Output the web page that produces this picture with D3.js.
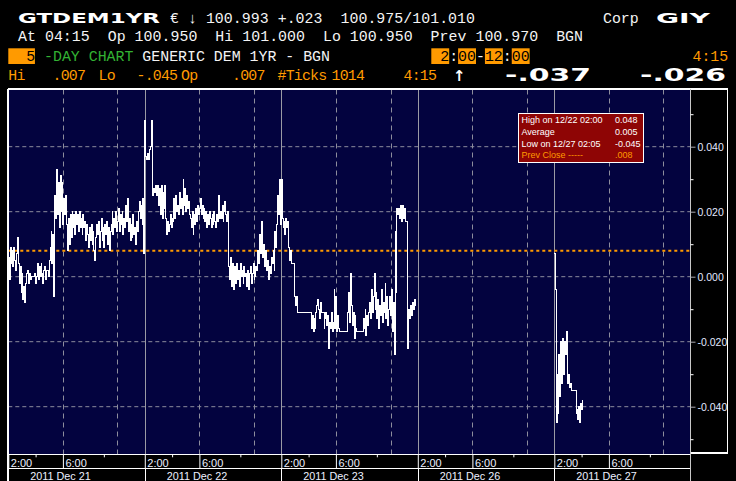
<!DOCTYPE html>
<html><head><meta charset="utf-8">
<script src="https://cdn.jsdelivr.net/npm/d3@7"></script>
<style>html,body{margin:0;padding:0;background:#000;overflow:hidden}svg{display:block}</style>
</head><body>
<svg id="c" width="736" height="481"></svg>
<script>
// ---------------- data ----------------
const dayLabels = ["2011 Dec 21", "2011 Dec 22", "2011 Dec 23", "2011 Dec 26", "2011 Dec 27"];
const sampleMinutes = 4;          // spacing of the readings below, from 2:00 each session
const sessionMinutes = 600;       // 2:00 - 12:00
// yield change readings, one every 4 minutes from 2:00
const dec21 = [.006,-.001,.009,.004,.008,.003,.009,.005,.002,.007, .012,.004,
  -.002,.003,-.005,.001,-.007,-.003,-.008,-.002,.001,
  .002,-.002,.001,-.001,0,0,0,0,.001,-.002,0,
  .004,-.001,.003,0,.004,.001,-.002,.002,.003,-.001,.002,
  .002,0,.005,.009, .014,.004,.013,-.006, .025,.018,.033,
  .019,.029,.015,.031,.020,.029,.016,.024,.019,.025,.016, .008,.018,.010,
  .019,.012,.020,.015,.019,.013,.020,.016,.019,.014,.020,.015,.018,.013,.019,.015,.017,.011,.016,
  .013,.009,.015,.011,.016,.010,.014,.008,.005,.012,.016,
  .013,.017,.009,.014,.018,.011,.015,.009,.016,.013,.017,.010,.015,.008,.014,
  .016,.020,.013,.018,.015,.020,.014,.017,.021,.014,.019,.016,.020,.013,.018,.015,.022,.017,
  .024,.014,.018,.011,.016,.012,.019,.013,.015,.010,.017,.014,.020,.023,.018,
  .022,.016,.024,.007];
const dec22 = [.048, .037,.036,.038,.036,.039, .040,.048,.042,.025,
  .027,.026,.028,.025,.028,.022,.027,.019,.028,.018,.026,.021,.028,.018,
  .013,.017,.014,.016,.019,.015,.018,.017,
  .024,.018,.025,.020,.022,.019,.026,.021,.024,.019,.030,.022,.027,.020,.025,.021,.023,.019,
  .018,.015,.020,.013,.019,.016,.021,.017,.022,.019,.021,
  .024,.019,.022,.018,.021,.017,.020,.015,.019,.016,.020,.018,.015,.019,.016,.020,.017,.015,.019,.017,.025,.018,
  .020,.018,.022,.017,.020,.023,.019,.017,.020, .003,
  -.001,.006,-.003,.004,0,-.004,.003,-.002,.004,-.001,.002,-.003,.004,0,.002,
  -.002,.003,0,.001,-.003,.002,-.004,.001,.003,-.002,.001,.004,-.001,0,.003,
  .002,.008,.004,.013,.007,.017,.006,.010,
  .006,.003,.008,.002,.005,-.001,.003,.001,.006,.004,.008,.002,.014,.009,.016,
  .025,.019,.030,.016];
const dec23 = [.030,.018, .015,.017,.013,.018,.015,.017, .009,.005,.008, .004,.004,.004,.004,
  -.006,-.009,-.006,-.011,
  -.011,-.011,-.011,-.011,-.011,-.011,-.011,-.011,-.011,-.011,-.011,-.011,-.011,-.011,
  -.016,-.012,-.017,-.013,-.016,-.011, -.009,-.007,-.010,-.013,-.008,-.011,
  -.011,-.011,-.016,-.013,-.011,
  -.015,-.012,-.022,-.014,-.016,-.011,-.017,-.014,-.004,-.016,-.006,-.017,-.012,-.016,
  -.017,-.017,-.017,-.017,-.017,-.017,-.017,-.017,-.017,
  -.011,-.005,-.014,.001,-.009, -.015,-.011,-.019,-.012,-.016,
  -.017,-.017,-.017,-.017,-.017,-.017,-.017,
  -.013,-.016,-.010,-.018,-.012,-.015,-.011,
  -.008,-.013,-.004,-.011,-.006,.001,-.010,
  -.005,-.013,-.007,-.016,-.009,-.012,-.004,-.014,-.008,-.011,-.002,-.013,-.006,-.015,-.010,
  -.006,-.012,-.004,-.017,-.008, -.024,
  .014,-.005,.021,.019,.021,.018, .022,.017,.022,.018,.021,.017, .017,.017, -.022,
  -.010,-.013,-.009,-.012,-.008,-.010,-.007,-.009,-.008];
const dec26 = [];
const dec27 = [.007,-.004,-.045,-.030,-.042,-.024,-.037,-.020,-.033,-.019,-.030,-.020,-.024,-.017,
  -.031,-.033,-.030,-.034,-.033,-.035,-.035,-.035,-.035,-.035,
  -.042,-.041,-.044,-.040,-.045,-.039,-.041,-.038,-.038];
const prevClose = 0.008;
const yTicks = [-0.04, -0.02, 0, 0.02, 0.04];
const yMinorTicks = [-0.05, -0.03, -0.01, 0.01, 0.03, 0.05];
const timeLabels = ["2:00", "6:00"];
const timeLabelMinutes = [0, 240];
const timeMinorMinutes = [120, 420];
const gridMinutes = [240, 480];
const legendLabels = ["High on 12/22 02:00", "Average", "Low on 12/27 02:05", "Prev Close -----"];
const legendValues = ["0.048", "0.005", "-0.045", ".008"];

// ---------------- drawing ----------------
const svg = d3.select("#c");
const ORANGE = "#ff9a00", WHITE = "#f4f4f4", MONO = "'Liberation Mono', 'DejaVu Sans Mono', monospace";
const SANS = "'Liberation Sans', Arial, sans-serif";
const BOLD = "'DejaVu Sans', sans-serif";

const L = 8.3, R = 690.8, T = 89.5, B = 454;
const x = d3.scaleLinear().domain([0, dayLabels.length * sessionMinutes]).range([L, R]);
const y = d3.scaleLinear().domain([-0.04, 0.04]).range([406.7, 146.7]);

svg.append("rect").attr("width", 736).attr("height", 481).attr("fill", "#000");
svg.append("rect").attr("x", L).attr("y", T).attr("width", R - L).attr("height", B - T).attr("fill", "#03033f");

// gridlines
const grid = svg.append("g");
grid.selectAll("line.h").data(yTicks).join("line")
  .attr("x1", L).attr("x2", R).attr("y1", d => y(d)).attr("y2", d => y(d))
  .attr("stroke", "#8d8d9d").attr("stroke-width", 1).attr("stroke-dasharray", "4,3");
const vGrid = [];
dayLabels.forEach((_, d) => gridMinutes.forEach(m => vGrid.push(d * sessionMinutes + m)));
grid.selectAll("line.v").data(vGrid).join("line")
  .attr("x1", d => Math.round(x(d)) + 0.5).attr("x2", d => Math.round(x(d)) + 0.5)
  .attr("y1", T).attr("y2", B)
  .attr("stroke", "#8d8d9d").attr("stroke-width", 1).attr("stroke-dasharray", "5,4");
grid.selectAll("line.d").data(d3.range(1, dayLabels.length)).join("line")
  .attr("x1", d => Math.round(x(d * sessionMinutes)) + 0.5).attr("x2", d => Math.round(x(d * sessionMinutes)) + 0.5)
  .attr("y1", T).attr("y2", B)
  .attr("stroke", "#9a9aa4").attr("stroke-width", 1);

// prev close line
svg.append("line").attr("x1", L).attr("x2", R).attr("y1", y(prevClose)).attr("y2", y(prevClose))
  .attr("stroke", ORANGE).attr("stroke-width", 2).attr("stroke-dasharray", "3,3");

// price line
svg.append("clipPath").attr("id", "clip").append("rect")
  .attr("x", L).attr("y", T).attr("width", R - L).attr("height", B - T);
const toPts = (arr, d) => arr.map((v, i) => [d * sessionMinutes + i * sampleMinutes, v]);
const seg1 = [].concat(toPts(dec21, 0), toPts(dec22, 1), toPts(dec23, 2));
const seg2 = [].concat(toPts(dec26, 3), toPts(dec27, 4));
const line = d3.line().x(p => x(p[0])).y(p => y(p[1])).curve(d3.curveStepAfter);
svg.append("g").attr("clip-path", "url(#clip)").selectAll("path").data([seg1, seg2]).join("path")
  .attr("d", line).attr("fill", "none").attr("stroke", "#fff").attr("stroke-width", 1)
  .attr("shape-rendering", "crispEdges");

// frame lines
const frame = svg.append("g").attr("stroke", "#fff").attr("stroke-width", 1.3).attr("shape-rendering", "crispEdges");
frame.append("line").attr("x1", L - 0.5).attr("x2", 728).attr("y1", 89).attr("y2", 89);
frame.append("line").attr("x1", 8).attr("x2", 8).attr("y1", 89).attr("y2", 481);
frame.append("line").attr("x1", 727.5).attr("x2", 727.5).attr("y1", 89).attr("y2", 453);
frame.append("line").attr("x1", R).attr("x2", 728).attr("y1", 453).attr("y2", 453);
frame.append("line").attr("x1", 8).attr("x2", R).attr("y1", 454.3).attr("y2", 454.3);
frame.append("line").attr("x1", 8).attr("x2", R).attr("y1", 468.5).attr("y2", 468.5);
svg.append("line").attr("x1", 690.5).attr("x2", 690.5).attr("y1", 89).attr("y2", 481)
  .attr("stroke", "#c8c8c8").attr("stroke-width", 1);

// right axis
const yAxis = svg.append("g").attr("transform", "translate(690.5,0)")
  .call(d3.axisRight(y).tickValues(yTicks).tickSize(5).tickPadding(2).tickFormat(d => d.toFixed(3)));
yAxis.select(".domain").remove();
yAxis.selectAll(".tick line").attr("stroke", "#a8a8b0");
yAxis.selectAll("text").attr("fill", "#e2e8ff").attr("font-family", SANS).attr("font-size", 10.5);
const yMinor = svg.append("g").attr("transform", "translate(690.5,0)")
  .call(d3.axisRight(y).tickValues(yMinorTicks).tickSize(3).tickFormat(""));
yMinor.select(".domain").remove();
yMinor.selectAll(".tick line").attr("stroke", "#fff");

// bottom axis
const xMajor = [], xMinor = [];
dayLabels.forEach((_, d) => {
  timeLabelMinutes.forEach(m => xMajor.push(d * sessionMinutes + m));
  timeMinorMinutes.forEach(m => xMinor.push(d * sessionMinutes + m));
});
const xAxis = svg.append("g").attr("transform", "translate(0,454.3)")
  .call(d3.axisBottom(x).tickValues(xMajor).tickSize(14.2)
    .tickFormat(v => timeLabels[timeLabelMinutes.indexOf(v % sessionMinutes)]));
xAxis.select(".domain").remove();
xAxis.selectAll(".tick line").attr("stroke", "#fff");
xAxis.selectAll(".tick text").attr("text-anchor", "start").attr("x", 2).attr("y", 12.3).attr("dy", 0)
  .attr("fill", "#eef0ff").attr("font-family", SANS).attr("font-size", 11);
const xMin = svg.append("g").attr("transform", "translate(0,454.3)")
  .call(d3.axisBottom(x).tickValues(xMinor).tickSize(3).tickFormat(""));
xMin.select(".domain").remove();
xMin.selectAll(".tick line").attr("stroke", "#fff");
svg.append("g").selectAll("line").data(d3.range(1, dayLabels.length)).join("line")
  .attr("x1", d => Math.round(x(d * sessionMinutes)) + 0.5).attr("x2", d => Math.round(x(d * sessionMinutes)) + 0.5)
  .attr("y1", 468).attr("y2", 481).attr("stroke", "#fff");
svg.append("g").selectAll("text").data(dayLabels).join("text")
  .attr("x", (d, i) => x(i * sessionMinutes) + 22).attr("y", 480)
  .attr("fill", "#eef0ff").attr("font-family", SANS).attr("font-size", 10.8).text(d => d);

// legend box
const lg = svg.append("g");
lg.append("rect").attr("x", 518.5).attr("y", 113.5).attr("width", 125).attr("height", 49)
  .attr("fill", "#8e0505").attr("stroke", "#fff").attr("stroke-width", 1);
legendLabels.forEach((t, i) => {
  const c = i === 3 ? ORANGE : "#fff";
  lg.append("text").attr("x", 521.5).attr("y", 123.3 + i * 11.6).attr("fill", c)
    .attr("font-family", SANS).attr("font-size", 9).text(t);
  lg.append("text").attr("x", 615).attr("y", 123.3 + i * 11.6).attr("fill", c)
    .attr("font-family", SANS).attr("font-size", 9).text(legendValues[i]);
});

// ---------------- header ----------------
const hd = svg.append("g");
function mono(xp, yp, txt, fill, len) {
  const t = hd.append("text").attr("x", xp).attr("y", yp).attr("fill", fill)
    .attr("font-family", MONO).attr("font-size", 14.9).attr("xml:space", "preserve")
    .style("white-space", "pre").text(txt);
  if (len) t.attr("textLength", len).attr("lengthAdjust", "spacing");
  return t;
}
function bold(xp, yp, txt, size, len) {
  return hd.append("text").attr("x", xp).attr("y", yp).attr("fill", "#fff")
    .attr("font-family", BOLD).attr("font-weight", "bold").attr("font-size", size)
    .attr("textLength", len).attr("lengthAdjust", "spacingAndGlyphs").text(txt);
}
// line 1
bold(18, 22.7, "GTDEM1YR", 14, 142);
mono(170, 22.7, "€ ↓ 100.993 +.023  100.975/101.010", WHITE, 305);
mono(603, 22.7, "Corp", WHITE);
bold(656, 22.7, "GIY", 14, 54);
// line 2
mono(18, 40.5, "At 04:15  Op 100.950  Hi 101.000  Lo 100.950  Prev 100.970  BGN", WHITE, 565);
// line 3
const cw = 8.94;
hd.append("rect").attr("x", 8.3).attr("y", 48.3).attr("width", 3 * cw - 0.2).attr("height", 15.7).attr("fill", ORANGE);
[[0, 2], [3, 2], [6, 2], [9, 2]].forEach(([c, n]) =>
  hd.append("rect").attr("x", 431.3 + c * cw).attr("y", 48.3).attr("width", n * cw).attr("height", 15.7).attr("fill", ORANGE));
const l3 = hd.append("text").attr("x", 8.3).attr("y", 61).attr("font-family", MONO).attr("font-size", 14.9)
  .attr("xml:space", "preserve").style("white-space", "pre");
l3.append("tspan").attr("fill", "#000").text("  5 ");
l3.append("tspan").attr("fill", "#33b233").text("-DAY CHART");
l3.append("tspan").attr("fill", WHITE).text(" GENERIC DEM 1YR - BGN");
const r3 = hd.append("text").attr("x", 431.3).attr("y", 61).attr("font-family", MONO).attr("font-size", 14.9)
  .attr("xml:space", "preserve").style("white-space", "pre");
[[" 2", "#000"], [":", WHITE], ["00", "#000"], ["-", WHITE], ["12", "#000"], [":", WHITE], ["00", "#000"]]
  .forEach(([t, c]) => r3.append("tspan").attr("fill", c).text(t));
mono(692.5, 61, "4:15", ORANGE);
// line 4
[["Hi", 8.3], [".007", 52.5], ["Lo", 98.5], ["-.045", 136.5], ["Op", 181], [".007", 232], ["#Ticks", 277.5], ["1014", 331.5], ["4:15", 403.5]]
  .forEach(([t, xp]) => mono(xp, 80, t, ORANGE).attr("letter-spacing", -0.8));
hd.append("text").attr("x", 453).attr("y", 81).attr("fill", "#fff").attr("font-family", BOLD)
  .attr("font-weight", "bold").attr("font-size", 15).text("↑");
bold(505, 81, "-.037", 17, 86);
bold(640, 81, "-.026", 17, 86);
</script>
</body></html>
